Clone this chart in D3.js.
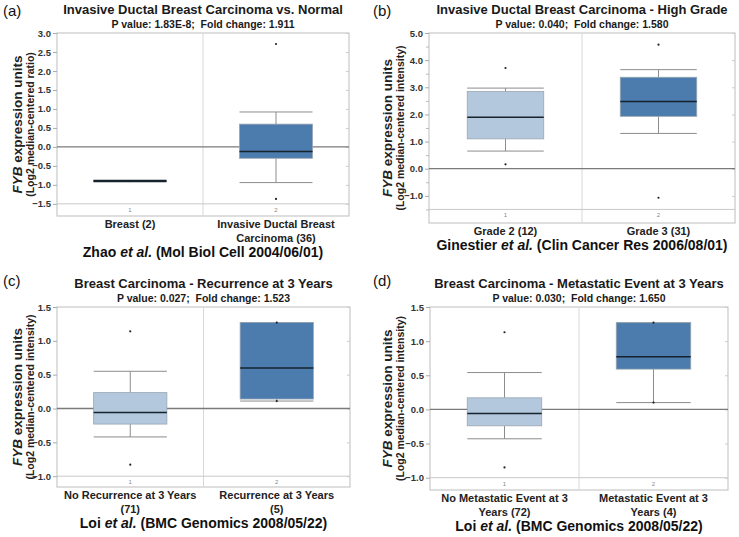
<!DOCTYPE html>
<html>
<head>
<meta charset="utf-8">
<script src="https://cdn.jsdelivr.net/npm/d3@7"></script>
<style>
  body { margin: 0; background: #fff; }
  text { font-family: "Liberation Sans", Arial, sans-serif; white-space: pre; }
</style>
</head>
<body>
<div id="chart"></div>
<script>
var w = 739;
var h = 537;

// (a) Zhao
var aCats = [["Breast (2)"], ["Invasive Ductal Breast", "Carcinoma (36)"]];
var aStats = [[-0.9, -0.9, -0.9, -0.9, -0.9], [-0.94, -0.30, -0.12, 0.60, 0.92]]; // min q1 med q3 max
var aPoints = [[-0.9], [2.71, -1.37]];
var aTicks = [-1.5, -1.0, -0.5, 0, 0.5, 1.0, 1.5, 2.0, 2.5, 3.0];

// (b) Ginestier
var bCats = [["Grade 2 (12)"], ["Grade 3 (31)"]];
var bStats = [[0.65, 1.10, 1.90, 2.85, 2.97], [1.30, 1.93, 2.48, 3.37, 3.65]];
var bPoints = [[3.71, 0.16], [4.57, -1.07]];
var bTicks = [-1, 0, 1, 2, 3, 4, 5];

// (c) Loi recurrence
var cCats = [["No Recurrence at 3 Years", "(71)"], ["Recurrence at 3 Years", "(5)"]];
var cStats = [[-0.42, -0.23, -0.06, 0.235, 0.55], [0.11, 0.14, 0.60, 1.27, 1.27]];
var cPoints = [[1.14, -0.83], [1.27, 0.11]];
var cTicks = [-1.0, -0.5, 0, 0.5, 1.0, 1.5];

// (d) Loi metastatic
var dCats = [["No Metastatic Event at 3", "Years (72)"], ["Metastatic Event at 3", "Years (4)"]];
var dStats = [[-0.43, -0.24, -0.06, 0.17, 0.54], [0.10, 0.59, 0.77, 1.27, 1.27]];
var dPoints = [[1.13, -0.85], [1.27, 0.10]];
var dTicks = [-1.0, -0.5, 0, 0.5, 1.0, 1.5];

var boxColors = ["#b3c8dd", "#4b7cad"];

var svg = d3.select("#chart").append("svg").attr("width", w).attr("height", h);

var panels = [
  { tag: "(a)", px: 0, py: 0, left: 57, top: 33, right: 349, bottom: 216, domain: [-1.82, 3.0],
    title: "Invasive Ductal Breast Carcinoma vs. Normal", sub: "P value: 1.83E-8;  Fold change: 1.911",
    ylab2: "(Log2 median-centered ratio)", cite: ["Zhao ", "et al.", " (Mol Biol Cell 2004/06/01)"],
    cats: aCats, stats: aStats, points: aPoints, ticks: aTicks, minor: [], base: -1.5 },
  { tag: "(b)", px: 370, py: 0, left: 429, top: 33, right: 735, bottom: 223, domain: [-2.0, 5.0],
    title: "Invasive Ductal Breast Carcinoma - High Grade", sub: "P value: 0.040;  Fold change: 1.580",
    ylab2: "(Log2 median-centered intensity)", cite: ["Ginestier ", "et al.", " (Clin Cancer Res 2006/08/01)"],
    cats: bCats, stats: bStats, points: bPoints, ticks: bTicks, minor: [-1.5, -0.5, 0.5, 1.5, 2.5, 3.5, 4.5], base: -1.5 },
  { tag: "(c)", px: 0, py: 270, left: 57, top: 307, right: 350, bottom: 487, domain: [-1.16, 1.5],
    title: "Breast Carcinoma - Recurrence at 3 Years", sub: "P value: 0.027;  Fold change: 1.523",
    ylab2: "(Log2 median-centered intensity)", cite: ["Loi ", "et al.", " (BMC Genomics 2008/05/22)"],
    cats: cCats, stats: cStats, points: cPoints, ticks: cTicks, minor: [], base: -1.0 },
  { tag: "(d)", px: 370, py: 270, left: 430, top: 307, right: 728, bottom: 490, domain: [-1.18, 1.5],
    title: "Breast Carcinoma - Metastatic Event at 3 Years", sub: "P value: 0.030;  Fold change: 1.650",
    ylab2: "(Log2 median-centered intensity)", cite: ["Loi ", "et al.", " (BMC Genomics 2008/05/22)"],
    cats: dCats, stats: dStats, points: dPoints, ticks: dTicks, minor: [], base: -1.0 }
];

panels.forEach(function (p) {
  var g = svg.append("g");
  var cx = (p.left + p.right) / 2;

  var y = d3.scaleLinear().domain(p.domain).range([p.bottom, p.top]);
  var x = d3.scaleBand().domain([0, 1]).range([p.left, p.right]);
  var bw = x.bandwidth() * 0.5;

  // panel tag + titles
  g.append("text").attr("x", p.px + 3).attr("y", p.py + 16)
    .attr("font-size", 15).attr("fill", "#111").text(p.tag);
  g.append("text").attr("x", cx).attr("y", p.top - 19).attr("text-anchor", "middle")
    .attr("font-size", 13).attr("font-weight", "bold").attr("fill", "#1a1a1a").text(p.title);
  g.append("text").attr("x", cx).attr("y", p.top - 5).attr("text-anchor", "middle")
    .attr("font-size", 10.5).attr("font-weight", "bold").attr("fill", "#1a1a1a").text(p.sub);

  // y label
  var my = (p.top + p.bottom) / 2;
  var yl = g.append("text").attr("transform", "translate(" + (p.px + 22) + "," + my + ") rotate(-90)")
    .attr("text-anchor", "middle").attr("font-size", 13.5).attr("font-weight", "bold").attr("fill", "#222");
  yl.append("tspan").attr("font-style", "italic").text("FYB");
  yl.append("tspan").text(" expression units");
  g.append("text").attr("transform", "translate(" + (p.px + 34) + "," + my + ") rotate(-90)")
    .attr("text-anchor", "middle").attr("font-size", 10.5).attr("font-weight", "bold").attr("fill", "#222")
    .text(p.ylab2);

  // frame
  g.append("rect").attr("x", p.left).attr("y", p.top)
    .attr("width", p.right - p.left).attr("height", p.bottom - p.top)
    .attr("fill", "#fff").attr("stroke", "#c8c8c8").attr("stroke-width", 1.2);
  g.append("line").attr("x1", x(1)).attr("x2", x(1)).attr("y1", p.top).attr("y2", p.bottom)
    .attr("stroke", "#d8d8d8");
  g.append("line").attr("x1", p.left).attr("x2", p.right).attr("y1", y(p.base)).attr("y2", y(p.base))
    .attr("stroke", "#c8c8c8");

  // axes
  var ax = g.append("g").attr("transform", "translate(" + p.left + ",0)")
    .call(d3.axisLeft(y).tickValues(p.ticks).tickSize(4).tickPadding(2).tickFormat(d3.format(".1f")));
  ax.select(".domain").remove();
  ax.selectAll(".tick line").attr("stroke", "#aaa");
  ax.selectAll(".tick text").attr("font-size", 9.5).attr("font-weight", "bold").attr("fill", "#333")
    .attr("font-family", "Liberation Sans, Arial, sans-serif");
  if (p.minor.length) {
    var mx = g.append("g").attr("transform", "translate(" + p.left + ",0)")
      .call(d3.axisLeft(y).tickValues(p.minor).tickSize(3).tickFormat(""));
    mx.select(".domain").remove();
    mx.selectAll(".tick line").attr("stroke", "#bbb");
  }
  var rx = g.append("g").attr("transform", "translate(" + p.right + ",0)")
    .call(d3.axisLeft(y).tickValues(p.ticks).tickSize(3).tickFormat(""));
  rx.select(".domain").remove();
  rx.selectAll(".tick line").attr("stroke", "#ccc");

  // zero line
  g.append("line").attr("x1", p.left).attr("x2", p.right).attr("y1", y(0)).attr("y2", y(0))
    .attr("stroke", "#7a7a7a").attr("stroke-width", 1.3);

  // boxes
  p.stats.forEach(function (s, i) {
    var bx = x(i) + x.bandwidth() / 2;
    var x0 = bx - bw / 2;
    g.append("line").attr("x1", bx).attr("x2", bx).attr("y1", y(s[4])).attr("y2", y(s[3]))
      .attr("stroke", "#8c8c8c");
    g.append("line").attr("x1", bx).attr("x2", bx).attr("y1", y(s[1])).attr("y2", y(s[0]))
      .attr("stroke", "#8c8c8c");
    g.append("line").attr("x1", x0).attr("x2", x0 + bw).attr("y1", y(s[4])).attr("y2", y(s[4]))
      .attr("stroke", "#8c8c8c");
    g.append("line").attr("x1", x0).attr("x2", x0 + bw).attr("y1", y(s[0])).attr("y2", y(s[0]))
      .attr("stroke", "#8c8c8c");
    g.append("rect").attr("x", x0).attr("y", y(s[3]))
      .attr("width", bw).attr("height", Math.max(0.5, y(s[1]) - y(s[3])))
      .attr("fill", boxColors[i]).attr("stroke", "#9aa6b2").attr("stroke-width", 0.8);
    g.append("line").attr("x1", x0).attr("x2", x0 + bw).attr("y1", y(s[2])).attr("y2", y(s[2]))
      .attr("stroke", "#16222e").attr("stroke-width", s[1] === s[3] ? 2.5 : 1.5);

    g.selectAll(null).data(p.points[i]).enter().append("circle")
      .attr("cx", bx).attr("cy", function (d) { return y(d); })
      .attr("r", 1.1).attr("fill", "#222");

    // tiny group number
    g.append("text").attr("x", bx).attr("y", y(p.base) + 8).attr("text-anchor", "middle")
      .attr("font-size", 6).attr("fill", "#888").text(i + 1);

    // category label
    p.cats[i].forEach(function (line, k) {
      g.append("text").attr("x", bx).attr("y", p.bottom + 12 + k * 14).attr("text-anchor", "middle")
        .attr("font-size", 11).attr("font-weight", "bold").attr("fill", "#222").text(line);
    });
  });

  // citation
  var lines = d3.max(p.cats, function (c) { return c.length; });
  var citeY = lines > 1 ? p.bottom + 41 : p.bottom + 27;
  var ct = g.append("text").attr("x", cx).attr("y", citeY).attr("text-anchor", "middle")
    .attr("font-size", 14).attr("font-weight", "bold").attr("fill", "#111");
  ct.append("tspan").text(p.cite[0]);
  ct.append("tspan").attr("font-style", "italic").text(p.cite[1]);
  ct.append("tspan").text(p.cite[2]);
});
</script>
</body>
</html>
